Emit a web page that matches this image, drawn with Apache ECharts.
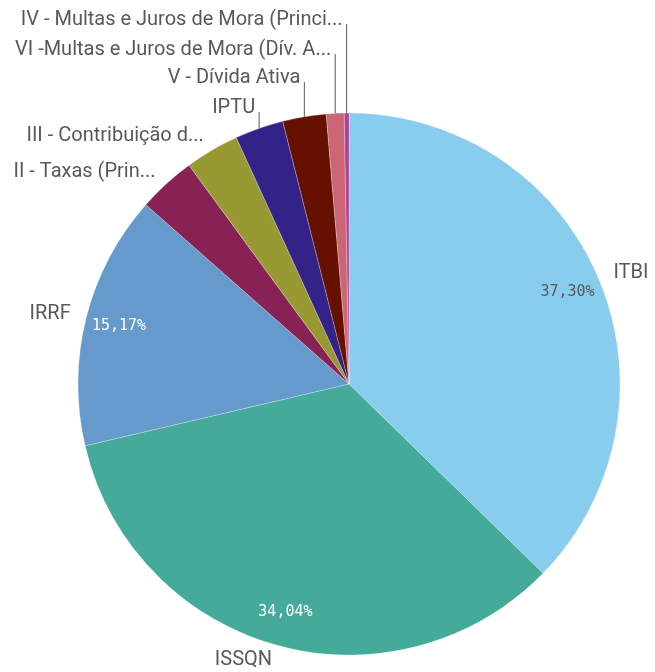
<!DOCTYPE html>
<html>
<head>
<meta charset="utf-8">
<script src="https://cdn.jsdelivr.net/npm/echarts@6/dist/echarts.min.js"></script>
<style>html,body{margin:0;background:#fff}#main{width:655px;height:672px}</style>
</head>
<body>
<div id="main"></div>
<script>
    // categorias e valores (%)
    var categories = ['ITBI', 'ISSQN', 'IRRF', 'II - Taxas (Prin...', 'III - Contribuição d...', 'IPTU',
        'V - Dívida Ativa', 'VI -Multas e Juros de Mora (Dív. A...', 'IV - Multas e Juros de Mora (Princi...'];
    var values = [37.30, 34.04, 15.17, 3.44, 3.22, 2.90, 2.59, 1.06, 0.28];
    var colors = ['#88ccee', '#44aa99', '#6699cc', '#882255', '#999933', '#332288', '#661100', '#cc6677', '#aa4499'];
    var showPct = [true, true, true, false, false, false, false, false, false];
    // linha do rótulo empilhado no topo (null = rótulo junto à fatia)
    var rowY = [null, null, null, null, null, 108, 78, 50, 20];

    var cx = 349, cy = 384, R = 271;
    var total = values.reduce(function (a, b) { return a + b; }, 0);

    function midDir(i) {
        var cum = 0;
        for (var k = 0; k < i; k++) cum += values[k];
        var a = (cum + values[i] / 2) / total * Math.PI * 2;
        return [Math.sin(a), -Math.cos(a)];
    }

    var data = categories.map(function (c, i) {
        return {
            name: c, value: values[i],
            itemStyle: {color: colors[i]},
            labelLine: {show: rowY[i] != null}
        };
    });

    var myChart = echarts.init(document.getElementById('main'));
    var option = {
        animation: false,
        series: [
            {
                type: 'pie',
                center: [cx, cy],
                radius: R,
                startAngle: 90,
                avoidLabelOverlap: false,
                itemStyle: {borderColor: 'rgba(255,255,255,0.5)', borderWidth: 0.5},
                label: {
                    show: true,
                    position: 'outside',
                    formatter: '{b}',
                    color: '#595959',
                    fontFamily: 'Roboto',
                    fontSize: 20
                },
                labelLine: {lineStyle: {color: '#595959', width: 1}, length: 10, length2: 10},
                labelLayout: function (p) {
                    var i = p.dataIndex, d = midDir(i);
                    var ex = cx + R * d[0], ey = cy + R * d[1];
                    if (rowY[i] != null) {
                        return {
                            x: ex - 4, y: rowY[i], align: 'right', verticalAlign: 'middle',
                            labelLinePoints: [[ex, ey], [ex, rowY[i] + 4], [ex, rowY[i] + 4]]
                        };
                    }
                    return {
                        x: ex + d[0] * 16, y: ey + d[1] * 16,
                        align: d[0] > 0 ? 'left' : 'right', verticalAlign: 'middle'
                    };
                },
                data: data
            },
            {
                // só os percentuais das fatias grandes
                type: 'pie',
                silent: true,
                center: [cx, cy],
                radius: R,
                startAngle: 90,
                itemStyle: {color: 'rgba(0,0,0,0)'},
                label: {
                    show: true,
                    position: 'inside',
                    fontFamily: 'DejaVu Sans Mono',
                    fontSize: 15,
                    formatter: function (p) {
                        return showPct[p.dataIndex] ? p.value.toFixed(2).replace('.', ',') + '%' : '';
                    },
                    color: '#fff'
                },
                labelLine: {show: false},
                labelLayout: function (p) {
                    var d = midDir(p.dataIndex);
                    return {x: cx + d[0] * R * 0.875, y: cy + d[1] * R * 0.875, align: 'center', verticalAlign: 'middle'};
                },
                data: categories.map(function (c, i) {
                    return {name: c, value: values[i], label: i === 0 ? {color: '#595959'} : {}};
                })
            }
        ]
    };
    myChart.setOption(option);
</script>
</body>
</html>
